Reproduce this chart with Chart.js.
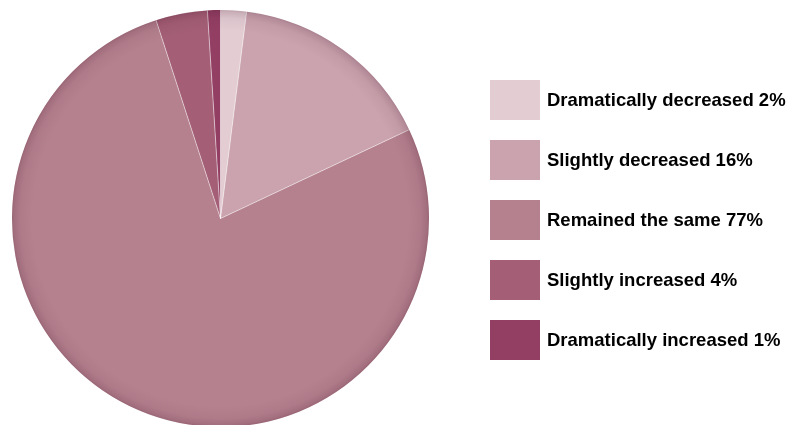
<!DOCTYPE html>
<html>
<head>
<meta charset="utf-8">
<script src="https://cdn.jsdelivr.net/npm/chart.js@4.4.1/dist/chart.umd.min.js"></script>
<style>
    html, body { margin: 0; padding: 0; background: #fff; overflow: hidden; }
    #wrap { position: relative; width: 792px; height: 425px; overflow: hidden; }
    #pie { display: block; }
    #legend { position: absolute; left: 490px; top: 80px; margin: 0; padding: 0; list-style: none; }
    #legend li { display: flex; align-items: center; height: 40px; margin-bottom: 20px; }
    #legend .box { width: 50px; height: 40px; margin-right: 7px; }
    #legend .txt { font: bold 18.5px "Liberation Sans", Arial, sans-serif; color: #000; white-space: nowrap; }
</style>
</head>
<body>
<div id="wrap">
    <canvas id="pie" width="792" height="445"></canvas>
    <ul id="legend"></ul>
</div>
<script>
// Chart data
const categories = ['Dramatically decreased', 'Slightly decreased', 'Remained the same', 'Slightly increased', 'Dramatically increased'];
const shares = [2, 16, 77, 4, 1];
const sliceColors = ['#e3cdd3', '#caa3ae', '#b5818f', '#a45f76', '#933f64'];

// thin white lines between slices (no stroke on the outer rim)
const separators = {
    id: 'separators',
    afterDatasetsDraw(chart) {
        const arcs = chart.getDatasetMeta(0).data;
        const ctx = chart.ctx;
        ctx.save();
        ctx.strokeStyle = 'rgba(255,255,255,0.5)';
        ctx.lineWidth = 1;
        arcs.forEach(function(arc) {
            ctx.beginPath();
            ctx.moveTo(arc.x, arc.y);
            ctx.lineTo(arc.x + Math.cos(arc.startAngle) * arc.outerRadius, arc.y + Math.sin(arc.startAngle) * arc.outerRadius);
            ctx.stroke();
        });
        ctx.restore();
    }
};

// soft darkened rim around the pie
const rimShade = {
    id: 'rimShade',
    afterDatasetsDraw(chart) {
        const arc = chart.getDatasetMeta(0).data[0];
        if (!arc) return;
        const ctx = chart.ctx;
        const r = arc.outerRadius;
        const g = ctx.createRadialGradient(arc.x, arc.y, r * 0.9, arc.x, arc.y, r);
        g.addColorStop(0, 'rgba(50,0,25,0)');
        g.addColorStop(0.6, 'rgba(50,0,25,0.05)');
        g.addColorStop(0.9, 'rgba(50,0,25,0.14)');
        g.addColorStop(1, 'rgba(50,0,25,0.22)');
        ctx.save();
        ctx.beginPath();
        ctx.arc(arc.x, arc.y, r, 0, Math.PI * 2);
        ctx.fillStyle = g;
        ctx.fill();
        ctx.restore();
    }
};

const chart = new Chart(document.getElementById('pie').getContext('2d'), {
    type: 'pie',
    data: {
        labels: categories,
        datasets: [{
            data: shares,
            backgroundColor: sliceColors,
            borderWidth: 0
        }]
    },
    options: {
        responsive: false,
        animation: false,
        events: [],
        layout: { padding: { left: 12, top: 10, bottom: 18, right: 363 } },
        plugins: {
            legend: { display: false },
            tooltip: { enabled: false }
        }
    },
    plugins: [separators, rimShade]
});

// legend built from the same arrays
const legend = document.getElementById('legend');
categories.forEach(function(name, i) {
    const li = document.createElement('li');
    const box = document.createElement('span');
    box.className = 'box';
    box.style.background = sliceColors[i];
    const txt = document.createElement('span');
    txt.className = 'txt';
    txt.textContent = name + ' ' + shares[i] + '%';
    li.appendChild(box);
    li.appendChild(txt);
    legend.appendChild(li);
});
</script>
</body>
</html>
